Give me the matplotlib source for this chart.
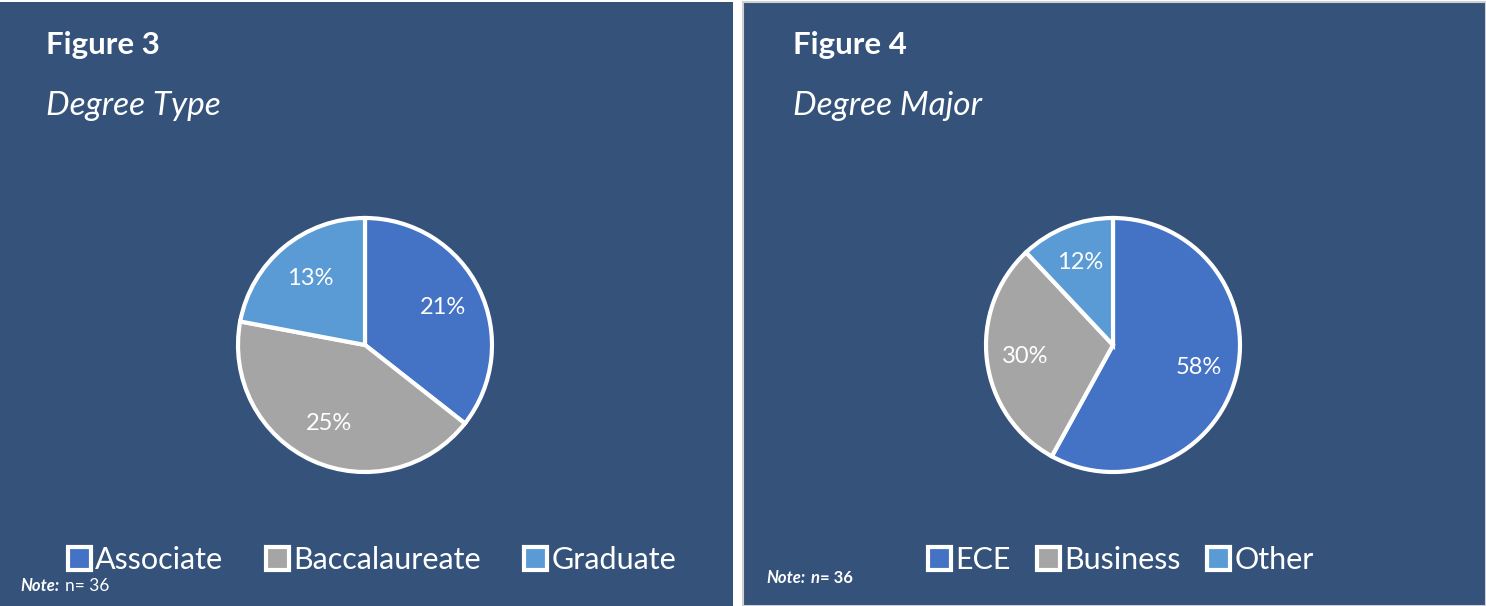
import matplotlib
matplotlib.use("Agg")
import matplotlib.pyplot as plt
from matplotlib.patches import Rectangle

# ---- data ----
type_labels = ["Associate", "Baccalaureate", "Graduate"]
type_values = [21, 25, 13]
major_labels = ["ECE", "Business", "Other"]
major_values = [58, 30, 12]
colors = ["#4472C4", "#A5A5A5", "#5B9BD5"]
titles = ["Figure 3", "Figure 4"]
subtitles = ["Degree Type", "Degree Major"]

BG = "#34527A"
W, H = 1486, 606
plt.rcParams['font.family'] = ['Lato', 'DejaVu Sans']

fig = plt.figure(figsize=(W / 100, H / 100), dpi=100)
fig.patch.set_facecolor("white")

def fx(px):
    return px / W

def fy(py):
    return 1 - py / H

# panels (drawn beneath the axes)
fig.patches.append(Rectangle((0, 0), fx(733), fy(2), transform=fig.transFigure,
                             facecolor=BG, edgecolor="none", zorder=-5))
fig.patches.append(Rectangle((fx(743), 0), fx(W - 743), fy(2), transform=fig.transFigure,
                             facecolor=BG, edgecolor="#D0D0D0", linewidth=1.5, zorder=-5))

def draw_panel(x0, cx, cy, r, values, labels, title, subtitle, legend_cx, label_r, colspace):
    fig.text(fx(x0), fy(54), title, color="white", fontsize=22.5, fontweight="bold",
             ha="left", va="baseline")
    fig.text(fx(x0), fy(115), subtitle, color="white", fontsize=24, style="italic",
             ha="left", va="baseline")
    ax = fig.add_axes([fx(cx - r * 1.03), fy(cy + r * 1.03), fx(2 * r * 1.03), (2 * r * 1.03) / H])
    ax.set_facecolor("none")
    wedges, texts = ax.pie(values, colors=colors, startangle=90, counterclock=False,
                           labels=[f"{v}%" for v in values], labeldistance=label_r,
                           wedgeprops=dict(edgecolor="white", linewidth=3),
                           textprops=dict(color="white", fontsize=17), radius=1.0)
    for t in texts:
        t.set_ha("center")
        t.set_va("center")
    ax.set_xlim(-1.03, 1.03)
    ax.set_ylim(-1.03, 1.03)
    ax.set_aspect("equal")
    ax.axis("off")
    fig.legend(wedges, labels, loc="center", bbox_to_anchor=(fx(legend_cx), fy(560)),
               ncol=3, frameon=False, fontsize=22, labelcolor="white",
               handlelength=0.75, handleheight=0.75, handletextpad=0.15,
               columnspacing=colspace, borderaxespad=0)
    return ax

draw_panel(46, 365, 345, 127, type_values, type_labels, titles[0], subtitles[0], 372, 0.68, 1.4)
draw_panel(793, 1113, 345, 127, major_values, major_labels, titles[1], subtitles[1], 1121, 0.70, 0.85)

fig.text(fx(20), fy(591), "Note:", color="white", fontsize=12, style="italic", fontweight="bold",
         ha="left", va="baseline")
fig.text(fx(65), fy(591), "n= 36", color="white", fontsize=12.5, ha="left", va="baseline")
fig.text(fx(766), fy(583), "Note:", color="white", fontsize=12, style="italic", fontweight="bold",
         ha="left", va="baseline")
fig.text(fx(811), fy(583), "n", color="white", fontsize=12, style="italic", fontweight="bold",
         ha="left", va="baseline")
fig.text(fx(820), fy(583), "= 36", color="white", fontsize=12, fontweight="bold",
         ha="left", va="baseline")

fig.savefig("out.png", dpi=100, facecolor=fig.get_facecolor())
